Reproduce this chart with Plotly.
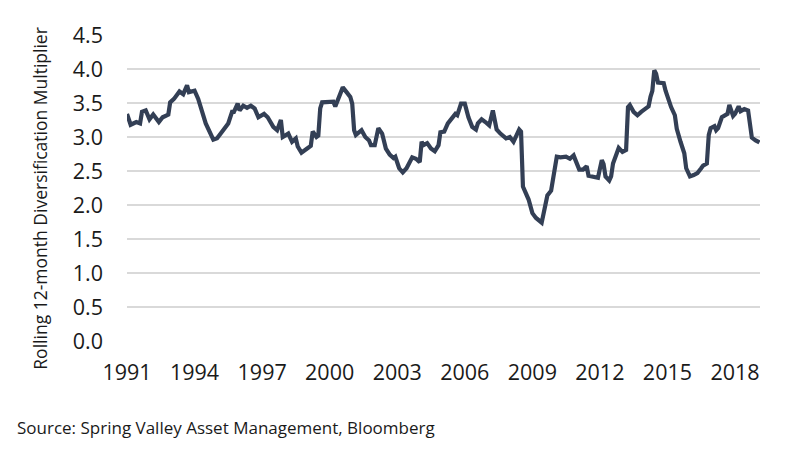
import plotly.graph_objects as go

dates = [
    "1991-01", "1991-03", "1991-06", "1991-08", "1991-09", "1991-11",
    "1992-01", "1992-03", "1992-06", "1992-08", "1992-11", "1992-12",
    "1993-02", "1993-05", "1993-07", "1993-09", "1993-10",
    "1994-01", "1994-03", "1994-06", "1994-07", "1994-11",
    "1995-01", "1995-03", "1995-07", "1995-09", "1995-10", "1995-12",
    "1996-01", "1996-03", "1996-05", "1996-07", "1996-09", "1996-11",
    "1997-02", "1997-04", "1997-07", "1997-09", "1997-11", "1997-12",
    "1998-03", "1998-05", "1998-07", "1998-08", "1998-10",
    "1999-01", "1999-03", "1999-04", "1999-06", "1999-07", "1999-08", "1999-09", "1999-11",
    "2000-01", "2000-03", "2000-04", "2000-06", "2000-08", "2000-10", "2000-12",
    "2001-01", "2001-02", "2001-03", "2001-06", "2001-08", "2001-10", "2001-11",
    "2002-01", "2002-03", "2002-05", "2002-07", "2002-09", "2002-11", "2002-12",
    "2003-02", "2003-04", "2003-06", "2003-09", "2003-11",
    "2004-01", "2004-02", "2004-03", "2004-05", "2004-07", "2004-09", "2004-11", "2004-12",
    "2005-02", "2005-04", "2005-06", "2005-08", "2005-09", "2005-11",
    "2006-01", "2006-03", "2006-05", "2006-07", "2006-08", "2006-10", "2006-12",
    "2007-02", "2007-04", "2007-05", "2007-06", "2007-08", "2007-11",
    "2008-01", "2008-03", "2008-06", "2008-07", "2008-08", "2008-11",
    "2009-01", "2009-03", "2009-06", "2009-09", "2009-11",
    "2010-01", "2010-02", "2010-04", "2010-07", "2010-09", "2010-11", "2010-12",
    "2011-02", "2011-04", "2011-06", "2011-07", "2011-09", "2011-12",
    "2012-02", "2012-03", "2012-04", "2012-06", "2012-07", "2012-08", "2012-10", "2012-11",
    "2013-01", "2013-03", "2013-04", "2013-05", "2013-07", "2013-09", "2013-11",
    "2014-01", "2014-03", "2014-04", "2014-05", "2014-06", "2014-07", "2014-08", "2014-11", "2014-12",
    "2015-02", "2015-03", "2015-05", "2015-06", "2015-08", "2015-09", "2015-10", "2015-11",
    "2016-01", "2016-03", "2016-05", "2016-07", "2016-08", "2016-10", "2016-11", "2016-12",
    "2017-02", "2017-03", "2017-04", "2017-06", "2017-08", "2017-09", "2017-10", "2017-12",
    "2018-01", "2018-03", "2018-04", "2018-06", "2018-08", "2018-09", "2018-10", "2018-12",
    "2019-02",
]

values = [
    3.34, 3.18, 3.22, 3.20, 3.37, 3.39,
    3.26, 3.33, 3.22, 3.29, 3.33, 3.51,
    3.56, 3.67, 3.63, 3.76, 3.66,
    3.68, 3.56, 3.27, 3.20, 2.96,
    2.98, 3.05, 3.20, 3.37, 3.37, 3.49,
    3.39, 3.46, 3.43, 3.46, 3.42, 3.29,
    3.34, 3.29, 3.15, 3.10, 3.25, 3.00,
    3.05, 2.93, 2.98, 2.86, 2.77,
    2.83, 2.87, 3.08, 3.00, 3.02, 3.42, 3.51, 3.51,
    3.52, 3.52, 3.45, 3.61, 3.73, 3.66, 3.59,
    3.49, 3.10, 3.03, 3.10, 3.00, 2.95, 2.88,
    2.88, 3.13, 3.05, 2.83, 2.74, 2.69, 2.71,
    2.54, 2.48, 2.54, 2.70, 2.68,
    2.63, 2.93, 2.88, 2.91, 2.83, 2.79, 2.88, 3.07,
    3.08, 3.20, 3.27, 3.34, 3.32, 3.49,
    3.49, 3.29, 3.15, 3.11, 3.20, 3.26, 3.22,
    3.17, 3.39, 3.28, 3.11, 3.05, 2.98,
    3.00, 2.93, 3.11, 3.08, 2.27, 2.08,
    1.88, 1.81, 1.74, 2.14, 2.21,
    2.50, 2.71, 2.70, 2.71, 2.68, 2.73, 2.66,
    2.52, 2.52, 2.57, 2.43, 2.42, 2.40,
    2.66, 2.60, 2.42, 2.36, 2.42, 2.61, 2.76, 2.84,
    2.78, 2.81, 3.44, 3.47, 3.37, 3.32, 3.37,
    3.42, 3.45, 3.59, 3.68, 3.98, 3.93, 3.80, 3.79, 3.68,
    3.51, 3.44, 3.32, 3.12, 2.93, 2.84, 2.76, 2.54,
    2.42, 2.44, 2.47, 2.54, 2.58, 2.61, 3.03, 3.13,
    3.16, 3.10, 3.13, 3.29, 3.33, 3.34, 3.47, 3.31,
    3.34, 3.45, 3.38, 3.41, 3.39, 3.17, 2.99, 2.95,
    2.92,
]

x_tick_years = ["1991", "1994", "1997", "2000", "2003", "2006", "2009", "2012", "2015", "2018"]
y_ticks = [0.0, 0.5, 1.0, 1.5, 2.0, 2.5, 3.0, 3.5, 4.0, 4.5]

y_title = "Rolling 12-month Diversification Multiplier"
source_text = "Source: Spring Valley Asset Management, Bloomberg"

FONT = "Open Sans"

fig = go.Figure()
fig.add_trace(go.Scatter(
    x=[d + "-01" for d in dates],
    y=values,
    mode="lines",
    line=dict(color="#333F55", width=4.2),
    hoverinfo="x+y",
    showlegend=False,
))

fig.update_layout(
    width=796,
    height=452,
    margin=dict(l=119, r=44, t=24, b=119),
    paper_bgcolor="white",
    plot_bgcolor="white",
    font=dict(family=FONT, color="#1a1a1a"),
    xaxis=dict(
        type="date",
        range=["1991-01-01", "2019-02-10"],
        tickvals=[y + "-01-01" for y in x_tick_years],
        ticktext=x_tick_years,
        showgrid=False,
        showline=False,
        zeroline=False,
        ticks="",
        tickfont=dict(size=21.5, family=FONT, color="#1a1a1a"),
        ticklabelstandoff=16,
    ),
    yaxis=dict(
        range=[0, 4.5],
        tickvals=y_ticks,
        ticktext=[f"{v:.1f}" for v in y_ticks],
        showgrid=True,
        gridcolor="#D9D9D9",
        gridwidth=1.5,
        zeroline=False,
        showline=False,
        ticks="",
        tickfont=dict(size=21.5, family=FONT, color="#1a1a1a"),
        ticklabelstandoff=23,
    ),
    annotations=[
        dict(
            text=y_title, xref="paper", yref="paper",
            x=-0.137, y=0.466, xanchor="center", yanchor="middle",
            textangle=-90, showarrow=False,
            font=dict(size=17.5, family=FONT, color="#1a1a1a"),
        ),
        dict(
            text=source_text, xref="paper", yref="paper",
            x=-0.177, y=-0.282, xanchor="left", yanchor="middle",
            showarrow=False,
            font=dict(size=17, family=FONT, color="#1a1a1a"),
        ),
    ],
)

fig.write_html("out.html")
